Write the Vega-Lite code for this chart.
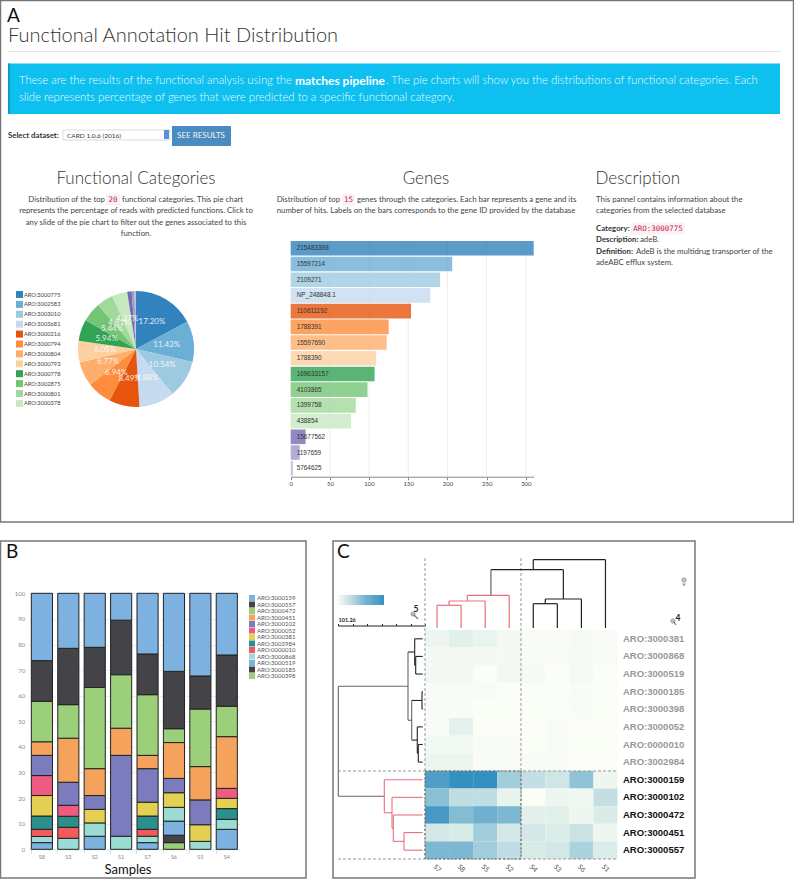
{"$schema":"https://vega.github.io/schema/vega-lite/v6.json","width":794,"height":880,"autosize":"none","padding":0,"background":"white","config":{"view":{"stroke":null},"font":"Lato","text":{"font":"Lato"},"axis":{"labelFont":"Lato"},"legend":{"labelFont":"Lato"}},"resolve":{"scale":{"x":"independent","y":"independent","color":"independent","theta":"independent"},"axis":{"x":"independent","y":"independent"},"legend":{"color":"independent"}},"layer":[
{"data":{"values":[{"a":0,"b":1},{"a":2,"b":3},{"a":4,"b":5}]},"mark":{"type":"rect","fillOpacity":0,"stroke":"#777","strokeWidth":1.5},"encoding":{"x":{"field":"a","type":"quantitative","axis":null,"scale":{"domain":[0,1,2,3,4,5],"range":[0.5,793.5,0.5,306,333,695],"nice":false}},"x2":{"field":"b"},"y":{"field":"a","type":"quantitative","axis":null,"scale":{"domain":[0,1,2,3,4,5],"range":[0.5,522,541,878,541,878],"nice":false}},"y2":{"field":"b"}}},
{"data":{"values":[{"a":0,"b":1}]},"mark":{"type":"rect","fill":"#e3e3e3"},"encoding":{"x":{"field":"a","type":"quantitative","axis":null,"scale":{"domain":[0,1],"range":[8,781],"nice":false}},"x2":{"field":"b"},"y":{"field":"a","type":"quantitative","axis":null,"scale":{"domain":[0,1],"range":[51,52],"nice":false}},"y2":{"field":"b"}}},
{"data":{"values":[{"a":0,"b":1}]},"mark":{"type":"rect","fill":"#0dc0ef"},"encoding":{"x":{"field":"a","type":"quantitative","axis":null,"scale":{"domain":[0,1],"range":[8,780],"nice":false}},"x2":{"field":"b"},"y":{"field":"a","type":"quantitative","axis":null,"scale":{"domain":[0,1],"range":[63.5,114],"nice":false}},"y2":{"field":"b"}}},
{"data":{"values":[{"a":0,"b":1}]},"mark":{"type":"rect","fill":"#0a9dc8"},"encoding":{"x":{"field":"a","type":"quantitative","axis":null,"scale":{"domain":[0,1],"range":[8,10],"nice":false}},"x2":{"field":"b"},"y":{"field":"a","type":"quantitative","axis":null,"scale":{"domain":[0,1],"range":[63.5,114],"nice":false}},"y2":{"field":"b"}}},
{"data":{"values":[{"a":0,"b":1}]},"mark":{"type":"rect","fill":"white","stroke":"#ccc","strokeWidth":0.7},"encoding":{"x":{"field":"a","type":"quantitative","axis":null,"scale":{"domain":[0,1],"range":[63,170],"nice":false}},"x2":{"field":"b"},"y":{"field":"a","type":"quantitative","axis":null,"scale":{"domain":[0,1],"range":[130,140],"nice":false}},"y2":{"field":"b"}}},
{"data":{"values":[{"a":0,"b":1}]},"mark":{"type":"rect","fill":"#5a8fdc"},"encoding":{"x":{"field":"a","type":"quantitative","axis":null,"scale":{"domain":[0,1],"range":[164,169],"nice":false}},"x2":{"field":"b"},"y":{"field":"a","type":"quantitative","axis":null,"scale":{"domain":[0,1],"range":[130,139],"nice":false}},"y2":{"field":"b"}}},
{"data":{"values":[{"a":0,"b":1}]},"mark":{"type":"rect","fill":"#4a8cc0","cornerRadius":1},"encoding":{"x":{"field":"a","type":"quantitative","axis":null,"scale":{"domain":[0,1],"range":[172,231],"nice":false}},"x2":{"field":"b"},"y":{"field":"a","type":"quantitative","axis":null,"scale":{"domain":[0,1],"range":[126,146],"nice":false}},"y2":{"field":"b"}}},
{"data":{"values":[{"a":0,"b":1},{"a":2,"b":3},{"a":4,"b":5}]},"mark":{"type":"rect","fill":"#f9f2f4","cornerRadius":1},"encoding":{"x":{"field":"a","type":"quantitative","axis":null,"scale":{"domain":[0,1,2,3,4,5],"range":[106,120,342,355,631,685],"nice":false}},"x2":{"field":"b"},"y":{"field":"a","type":"quantitative","axis":null,"scale":{"domain":[0,1,2,3,4,5],"range":[193.5,205.5,193.5,205.5,222.5,234.5],"nice":false}},"y2":{"field":"b"}}},
{"data":{"values":[{"i":0,"t":"A"},{"i":1,"t":"B"},{"i":2,"t":"C"}]},"mark":{"type":"text","align":"left","baseline":"alphabetic","fontSize":19,"color":"#111"},"encoding":{"x":{"field":"i","type":"quantitative","axis":null,"scale":{"domain":[0,1,2],"range":[7,6,337],"nice":false}},"y":{"field":"i","type":"quantitative","axis":null,"scale":{"domain":[0,1,2],"range":[22,558,558],"nice":false}},"text":{"field":"t"}}},
{"data":{"values":[{"i":0,"t":"Functional Annotation Hit Distribution"}]},"mark":{"type":"text","align":"left","baseline":"alphabetic","fontSize":20,"fontWeight":300,"color":"#333"},"encoding":{"x":{"field":"i","type":"quantitative","axis":null,"scale":{"domain":[0,1],"range":[8,9],"nice":false}},"y":{"field":"i","type":"quantitative","axis":null,"scale":{"domain":[0,1],"range":[41.5,42.5],"nice":false}},"text":{"field":"t"}}},
{"data":{"values":[{"i":0,"t":"These are the results of the functional analysis using the"},{"i":1,"t":". The pie charts will show you the distributions of functional categories. Each"},{"i":2,"t":"slide represents percentage of genes that were predicted to a specific functional category."}]},"mark":{"type":"text","align":"left","baseline":"middle","fontSize":11.3,"fontWeight":300,"color":"#e9f9fe"},"encoding":{"x":{"field":"i","type":"quantitative","axis":null,"scale":{"domain":[0,1,2],"range":[19,386,19],"nice":false}},"y":{"field":"i","type":"quantitative","axis":null,"scale":{"domain":[0,1,2],"range":[81,81,98],"nice":false}},"text":{"field":"t"}}},
{"data":{"values":[{"i":0,"t":"matches pipeline"}]},"mark":{"type":"text","align":"left","baseline":"middle","fontSize":12,"fontWeight":"bold","color":"white"},"encoding":{"x":{"field":"i","type":"quantitative","axis":null,"scale":{"domain":[0,1],"range":[295,296],"nice":false}},"y":{"field":"i","type":"quantitative","axis":null,"scale":{"domain":[0,1],"range":[81,82],"nice":false}},"text":{"field":"t"}}},
{"data":{"values":[{"i":0,"t":"Select dataset:"},{"i":1,"t":"Category:"},{"i":2,"t":"Description:"},{"i":3,"t":"Definition:"}]},"mark":{"type":"text","align":"left","baseline":"middle","fontSize":7.8,"fontWeight":"bold","color":"#333"},"encoding":{"x":{"field":"i","type":"quantitative","axis":null,"scale":{"domain":[0,1,2,3],"range":[8,596,596,596],"nice":false}},"y":{"field":"i","type":"quantitative","axis":null,"scale":{"domain":[0,1,2,3],"range":[136,228.5,240,251.5],"nice":false}},"text":{"field":"t"}}},
{"data":{"values":[{"i":0,"t":"CARD 1.0.6 (2016)"}]},"mark":{"type":"text","align":"left","baseline":"middle","fontSize":6.5,"color":"#333"},"encoding":{"x":{"field":"i","type":"quantitative","axis":null,"scale":{"domain":[0,1],"range":[67,68],"nice":false}},"y":{"field":"i","type":"quantitative","axis":null,"scale":{"domain":[0,1],"range":[135.5,136.5],"nice":false}},"text":{"field":"t"}}},
{"data":{"values":[{"i":0,"t":"SEE RESULTS"}]},"mark":{"type":"text","align":"center","baseline":"middle","fontSize":8,"color":"#f0f6fb"},"encoding":{"x":{"field":"i","type":"quantitative","axis":null,"scale":{"domain":[0,1],"range":[201,202],"nice":false}},"y":{"field":"i","type":"quantitative","axis":null,"scale":{"domain":[0,1],"range":[136,137],"nice":false}},"text":{"field":"t"}}},
{"data":{"values":[{"i":0,"t":"Functional Categories"},{"i":1,"t":"Genes"}]},"mark":{"type":"text","align":"center","baseline":"middle","fontSize":17,"fontWeight":300,"color":"#333"},"encoding":{"x":{"field":"i","type":"quantitative","axis":null,"scale":{"domain":[0,1],"range":[136,426],"nice":false}},"y":{"field":"i","type":"quantitative","axis":null,"scale":{"domain":[0,1],"range":[178.5,178.5],"nice":false}},"text":{"field":"t"}}},
{"data":{"values":[{"i":0,"t":"Description"}]},"mark":{"type":"text","align":"left","baseline":"middle","fontSize":17,"fontWeight":300,"color":"#333"},"encoding":{"x":{"field":"i","type":"quantitative","axis":null,"scale":{"domain":[0,1],"range":[595.5,596.5],"nice":false}},"y":{"field":"i","type":"quantitative","axis":null,"scale":{"domain":[0,1],"range":[178.5,179.5],"nice":false}},"text":{"field":"t"}}},
{"data":{"values":[{"i":0,"t":"represents the percentage of reads with predicted functions. Click to"},{"i":1,"t":"any slide of the pie chart to filter out the genes associated to this"},{"i":2,"t":"function."},{"i":3,"t":"number of hits. Labels on the bars corresponds to the gene ID provided by the database"}]},"mark":{"type":"text","align":"center","baseline":"middle","fontSize":7.8,"color":"#444"},"encoding":{"x":{"field":"i","type":"quantitative","axis":null,"scale":{"domain":[0,1,2,3],"range":[136,136,136,426],"nice":false}},"y":{"field":"i","type":"quantitative","axis":null,"scale":{"domain":[0,1,2,3],"range":[211,222.7,234.3,211],"nice":false}},"text":{"field":"t"}}},
{"data":{"values":[{"i":0,"t":"Distribution of the top"},{"i":1,"t":"Distribution of top"}]},"mark":{"type":"text","align":"right","baseline":"middle","fontSize":7.8,"color":"#444"},"encoding":{"x":{"field":"i","type":"quantitative","axis":null,"scale":{"domain":[0,1],"range":[105,340],"nice":false}},"y":{"field":"i","type":"quantitative","axis":null,"scale":{"domain":[0,1],"range":[199.5,199.5],"nice":false}},"text":{"field":"t"}}},
{"data":{"values":[{"i":0,"t":"functional categories. This pie chart"},{"i":1,"t":"genes through the categories. Each bar represents a gene and its"},{"i":2,"t":"This pannel contains information about the"},{"i":3,"t":"categories from the selected database"},{"i":4,"t":"adeB."},{"i":5,"t":"AdeB is the multidrug transporter of the"},{"i":6,"t":"adeABC efflux system."}]},"mark":{"type":"text","align":"left","baseline":"middle","fontSize":7.8,"color":"#444"},"encoding":{"x":{"field":"i","type":"quantitative","axis":null,"scale":{"domain":[0,1,2,3,4,5,6],"range":[122,357,596,596,640,636,596],"nice":false}},"y":{"field":"i","type":"quantitative","axis":null,"scale":{"domain":[0,1,2,3,4,5,6],"range":[199.5,199.5,199.5,211,240,251.5,263.3],"nice":false}},"text":{"field":"t"}}},
{"data":{"values":[{"i":0,"t":"20"},{"i":1,"t":"15"},{"i":2,"t":"ARO:3000775"}]},"mark":{"type":"text","align":"center","baseline":"middle","fontSize":7.5,"font":"DejaVu Sans Mono","color":"#c7254e"},"encoding":{"x":{"field":"i","type":"quantitative","axis":null,"scale":{"domain":[0,1,2],"range":[113,348.5,658],"nice":false}},"y":{"field":"i","type":"quantitative","axis":null,"scale":{"domain":[0,1,2],"range":[199.5,199.5,228.5],"nice":false}},"text":{"field":"t"}}},
{"data":{"values":[{"aro":"ARO:3000775","v":17.2,"r":0,"lab":"17.20%"},{"aro":"ARO:3002583","v":11.43,"r":1,"lab":"11.43%"},{"aro":"ARO:3003010","v":10.54,"r":2,"lab":"10.54%"},{"aro":"ARO:3003681","v":9.88,"r":3,"lab":"9.88%"},{"aro":"ARO:3000216","v":8.49,"r":4,"lab":"8.49%"},{"aro":"ARO:3000794","v":6.94,"r":5,"lab":"6.94%"},{"aro":"ARO:3000804","v":6.77,"r":6,"lab":"6.77%"},{"aro":"ARO:3000793","v":6.05,"r":7,"lab":"6.05%"},{"aro":"ARO:3000778","v":5.94,"r":8,"lab":"5.94%"},{"aro":"ARO:3002875","v":5.44,"r":9,"lab":"5.44%"},{"aro":"ARO:3000801","v":4.61,"r":10,"lab":"4.61%"},{"aro":"ARO:3000378","v":4.27,"r":11,"lab":"4.27%"},{"aro":"ARO:3000p1","v":1.25,"r":12,"lab":""},{"aro":"ARO:3000p2","v":0.75,"r":13,"lab":""},{"aro":"ARO:3000p3","v":0.44,"r":14,"lab":""}]},"encoding":{"x":{"datum":0,"type":"quantitative","axis":null,"scale":{"domain":[0,1],"range":[136,137]}},"y":{"datum":0,"type":"quantitative","axis":null,"scale":{"domain":[0,1],"range":[349,350]}},"theta":{"field":"v","type":"quantitative","stack":true},"order":{"field":"r"}},"layer":[{"mark":{"type":"arc","outerRadius":58},"encoding":{"color":{"field":"aro","type":"nominal","scale":{"domain":["ARO:3000775","ARO:3002583","ARO:3003010","ARO:3003681","ARO:3000216","ARO:3000794","ARO:3000804","ARO:3000793","ARO:3000778","ARO:3002875","ARO:3000801","ARO:3000378","ARO:3000p1","ARO:3000p2","ARO:3000p3"],"range":["#3182bd","#6baed6","#9ecae1","#c6dbef","#e6550d","#fd8d3c","#fdae6b","#fdd0a2","#31a354","#74c476","#a1d99b","#c7e9c0","#756bb1","#9e9ac8","#bcbddc"]},"legend":{"orient":"none","legendX":16,"legendY":291,"title":null,"values":["ARO:3000775","ARO:3002583","ARO:3003010","ARO:3003681","ARO:3000216","ARO:3000794","ARO:3000804","ARO:3000793","ARO:3000778","ARO:3002875","ARO:3000801","ARO:3000378"],"symbolType":"square","symbolSize":49,"symbolStrokeWidth":0,"labelFontSize":5.7,"labelColor":"#444","rowPadding":2.9,"labelOffset":1}}}},{"mark":{"type":"text","radius":31,"fontSize":8,"color":"#fff","opacity":0.85},"encoding":{"text":{"field":"lab"}}}]},
{"data":{"values":[{"t":50},{"t":100},{"t":150},{"t":200},{"t":250},{"t":300}]},"mark":{"type":"rule","stroke":"#eee","strokeWidth":1},"encoding":{"x":{"field":"t","type":"quantitative","axis":null,"scale":{"domain":[0,310],"range":[290.7,533.7],"nice":false}},"y":{"datum":0,"type":"quantitative","axis":null,"scale":{"domain":[0,1],"range":[240,476.7]}},"y2":{"datum":1}}},
{"data":{"values":[{"g":"215483398","v":310,"k":"a"},{"g":"15597214","v":206,"k":"b"},{"g":"2109271","v":190.5,"k":"c"},{"g":"NP_248848.1","v":178,"k":"d"},{"g":"110611192","v":153.5,"k":"e"},{"g":"1788391","v":125,"k":"f"},{"g":"15597690","v":122.5,"k":"g"},{"g":"1788390","v":109,"k":"h"},{"g":"169633157","v":107,"k":"i"},{"g":"4103865","v":98,"k":"j"},{"g":"1399758","v":83,"k":"k"},{"g":"438854","v":77,"k":"l"},{"g":"15677562","v":19,"k":"m"},{"g":"1197659","v":11.5,"k":"n"},{"g":"5764625","v":3,"k":"o"}]},"encoding":{"y":{"field":"g","type":"nominal","sort":null,"axis":null,"scale":{"range":[240.5,476],"paddingInner":0.07,"paddingOuter":0.03}}},"layer":[{"mark":{"type":"bar","opacity":0.8},"encoding":{"x":{"field":"v","type":"quantitative","title":null,"scale":{"domain":[0,310],"range":[290.7,533.7],"nice":false},"axis":{"orient":"bottom","offset":-403.3,"values":[0,50,100,150,200,250,300],"grid":false,"labelFlush":false,"domainColor":"#888","tickColor":"#888","tickSize":3,"labelFontSize":6,"labelColor":"#444","labelPadding":1}},"color":{"field":"k","type":"nominal","legend":null,"scale":{"domain":["a","b","c","d","e","f","g","h","i","j","k","l","m","n","o"],"range":["#3182bd","#6baed6","#9ecae1","#c6dbef","#e6550d","#fd8d3c","#fdae6b","#fdd0a2","#31a354","#74c476","#a1d99b","#c7e9c0","#756bb1","#9e9ac8","#bcbddc"]}}}},{"mark":{"type":"text","align":"left","baseline":"middle","dx":6,"font":"Liberation Sans","fontSize":6.4,"color":"#333"},"encoding":{"x":{"datum":0,"type":"quantitative"},"text":{"field":"g"}}}]},
{"data":{"values":[{"s":"S8","a":"ARO:3000519","r":2,"v":2.6},{"s":"S8","a":"ARO:3000868","r":3,"v":2.4},{"s":"S8","a":"ARO:0000010","r":4,"v":2.8},{"s":"S8","a":"ARO:3002984","r":5,"v":5.2},{"s":"S8","a":"ARO:3000381","r":6,"v":8},{"s":"S8","a":"ARO:3000052","r":7,"v":7.8},{"s":"S8","a":"ARO:3000102","r":8,"v":7.9},{"s":"S8","a":"ARO:3000451","r":9,"v":5.3},{"s":"S8","a":"ARO:3000472","r":10,"v":15.8},{"s":"S8","a":"ARO:3000557","r":11,"v":15.9},{"s":"S8","a":"ARO:3000159","r":12,"v":26.3},
{"s":"S3","a":"ARO:3000868","r":3,"v":4.3},{"s":"S3","a":"ARO:0000010","r":4,"v":4.3},{"s":"S3","a":"ARO:3002984","r":5,"v":4.3},{"s":"S3","a":"ARO:3000052","r":7,"v":4.3},{"s":"S3","a":"ARO:3000102","r":8,"v":9},{"s":"S3","a":"ARO:3000451","r":9,"v":17.2},{"s":"S3","a":"ARO:3000472","r":10,"v":13.1},{"s":"S3","a":"ARO:3000557","r":11,"v":22},{"s":"S3","a":"ARO:3000159","r":12,"v":21.5},
{"s":"S2","a":"ARO:3000519","r":2,"v":5.1},{"s":"S2","a":"ARO:3000868","r":3,"v":5.2},{"s":"S2","a":"ARO:3000381","r":6,"v":5.3},{"s":"S2","a":"ARO:3000102","r":8,"v":5.4},{"s":"S2","a":"ARO:3000451","r":9,"v":10.5},{"s":"S2","a":"ARO:3000472","r":10,"v":31.7},{"s":"S2","a":"ARO:3000557","r":11,"v":15.7},{"s":"S2","a":"ARO:3000159","r":12,"v":21.1},
{"s":"S1","a":"ARO:3000868","r":3,"v":5.1},{"s":"S1","a":"ARO:3000102","r":8,"v":31.6},{"s":"S1","a":"ARO:3000451","r":9,"v":10.6},{"s":"S1","a":"ARO:3000472","r":10,"v":20.9},{"s":"S1","a":"ARO:3000557","r":11,"v":21.3},{"s":"S1","a":"ARO:3000159","r":12,"v":10.5},
{"s":"S7","a":"ARO:3000519","r":2,"v":2.6},{"s":"S7","a":"ARO:3000868","r":3,"v":2.5},{"s":"S7","a":"ARO:0000010","r":4,"v":2.7},{"s":"S7","a":"ARO:3002984","r":5,"v":5.2},{"s":"S7","a":"ARO:3000381","r":6,"v":5.4},{"s":"S7","a":"ARO:3000102","r":8,"v":13.1},{"s":"S7","a":"ARO:3000451","r":9,"v":5.2},{"s":"S7","a":"ARO:3000472","r":10,"v":23.7},{"s":"S7","a":"ARO:3000557","r":11,"v":15.9},{"s":"S7","a":"ARO:3000159","r":12,"v":23.7},
{"s":"S6","a":"ARO:3000398","r":0,"v":2.6},{"s":"S6","a":"ARO:3000185","r":1,"v":2.9},{"s":"S6","a":"ARO:3000519","r":2,"v":5.5},{"s":"S6","a":"ARO:3000868","r":3,"v":5.4},{"s":"S6","a":"ARO:3000381","r":6,"v":5.7},{"s":"S6","a":"ARO:3000102","r":8,"v":5.6},{"s":"S6","a":"ARO:3000451","r":9,"v":14},{"s":"S6","a":"ARO:3000472","r":10,"v":5.4},{"s":"S6","a":"ARO:3000557","r":11,"v":22.4},{"s":"S6","a":"ARO:3000159","r":12,"v":30.5},
{"s":"S5","a":"ARO:3000868","r":3,"v":3.1},{"s":"S5","a":"ARO:3000381","r":6,"v":6.5},{"s":"S5","a":"ARO:3000102","r":8,"v":9.7},{"s":"S5","a":"ARO:3000451","r":9,"v":13},{"s":"S5","a":"ARO:3000472","r":10,"v":22.5},{"s":"S5","a":"ARO:3000557","r":11,"v":12.9},{"s":"S5","a":"ARO:3000159","r":12,"v":32.3},
{"s":"S4","a":"ARO:3000519","r":2,"v":7.8},{"s":"S4","a":"ARO:3000868","r":3,"v":3.9},{"s":"S4","a":"ARO:3002984","r":5,"v":4.2},{"s":"S4","a":"ARO:3000381","r":6,"v":4},{"s":"S4","a":"ARO:3000052","r":7,"v":3.9},{"s":"S4","a":"ARO:3000451","r":9,"v":20.2},{"s":"S4","a":"ARO:3000472","r":10,"v":11.9},{"s":"S4","a":"ARO:3000557","r":11,"v":20},{"s":"S4","a":"ARO:3000159","r":12,"v":24.1}]},"mark":{"type":"bar","stroke":"#222","strokeWidth":1},"encoding":{"x":{"field":"s","type":"nominal","sort":["S8","S3","S2","S1","S7","S6","S5","S4"],"title":null,"scale":{"range":[28.7,240],"paddingInner":0.2,"paddingOuter":0.1},"axis":{"orient":"bottom","offset":-30.7,"labelAngle":0,"labelFontSize":5.5,"labelColor":"#888","domainColor":"#ddd","tickColor":"#ddd","tickSize":4,"labelPadding":1,"bandPosition":0}},"y":{"field":"v","type":"quantitative","stack":"zero","title":null,"scale":{"domain":[0,100],"range":[849.3,593.3],"nice":false},"axis":{"orient":"left","offset":-28.7,"values":[0,10,20,30,40,50,60,70,80,90,100],"grid":true,"gridColor":"#eee","domain":false,"ticks":false,"labelFontSize":6,"labelColor":"#888","labelPadding":4}},"order":{"field":"r"},"color":{"field":"a","type":"nominal","scale":{"domain":["ARO:3000159","ARO:3000557","ARO:3000472","ARO:3000451","ARO:3000102","ARO:3000052","ARO:3000381","ARO:3002984","ARO:0000010","ARO:3000868","ARO:3000519","ARO:3000185","ARO:3000398"],"range":["#7cb1e0","#434348","#9ccf7a","#f5a35c","#7b7bbd","#ee5a80","#e4d154","#2b8f8c","#f15b5b","#9bdcd5","#7cb1e0","#434348","#9ccf7a"]},"legend":{"orient":"none","legendX":249,"legendY":595,"title":null,"symbolType":"square","symbolSize":36,"symbolStrokeWidth":0,"labelFontSize":6,"labelColor":"#555","rowPadding":0.5,"labelOffset":2}}}},
{"data":{"values":[{"i":0,"t":"Samples"}]},"mark":{"type":"text","align":"center","baseline":"middle","fontSize":13,"color":"#111"},"encoding":{"x":{"field":"i","type":"quantitative","axis":null,"scale":{"domain":[0,1],"range":[128,129],"nice":false}},"y":{"field":"i","type":"quantitative","axis":null,"scale":{"domain":[0,1],"range":[870,871],"nice":false}},"text":{"field":"t"}}},
{"data":{"values":[
{"r":"ARO:3000381","c":"S7","v":0.08},{"r":"ARO:3000381","c":"S8","v":0.13},{"r":"ARO:3000381","c":"S5","v":0.09},{"r":"ARO:3000381","c":"S2","v":0.05},{"r":"ARO:3000381","c":"S4","v":0.01},{"r":"ARO:3000381","c":"S3","v":0.01},{"r":"ARO:3000381","c":"S6","v":0.03},{"r":"ARO:3000381","c":"S1","v":0.01},
{"r":"ARO:3000868","c":"S7","v":0.04},{"r":"ARO:3000868","c":"S8","v":0.04},{"r":"ARO:3000868","c":"S5","v":0.04},{"r":"ARO:3000868","c":"S2","v":0.04},{"r":"ARO:3000868","c":"S4","v":0.01},{"r":"ARO:3000868","c":"S3","v":0.015},{"r":"ARO:3000868","c":"S6","v":0.03},{"r":"ARO:3000868","c":"S1","v":0.015},
{"r":"ARO:3000519","c":"S7","v":0.05},{"r":"ARO:3000519","c":"S8","v":0.05},{"r":"ARO:3000519","c":"S5","v":0},{"r":"ARO:3000519","c":"S2","v":0.05},{"r":"ARO:3000519","c":"S4","v":0.03},{"r":"ARO:3000519","c":"S3","v":0},{"r":"ARO:3000519","c":"S6","v":0.03},{"r":"ARO:3000519","c":"S1","v":0},
{"r":"ARO:3000185","c":"S7","v":0.01},{"r":"ARO:3000185","c":"S8","v":0.01},{"r":"ARO:3000185","c":"S5","v":0.01},{"r":"ARO:3000185","c":"S2","v":0},{"r":"ARO:3000185","c":"S4","v":0},{"r":"ARO:3000185","c":"S3","v":0},{"r":"ARO:3000185","c":"S6","v":0.01},{"r":"ARO:3000185","c":"S1","v":0},
{"r":"ARO:3000398","c":"S7","v":0.01},{"r":"ARO:3000398","c":"S8","v":0.01},{"r":"ARO:3000398","c":"S5","v":0},{"r":"ARO:3000398","c":"S2","v":0},{"r":"ARO:3000398","c":"S4","v":0},{"r":"ARO:3000398","c":"S3","v":0},{"r":"ARO:3000398","c":"S6","v":0.01},{"r":"ARO:3000398","c":"S1","v":0},
{"r":"ARO:3000052","c":"S7","v":0.01},{"r":"ARO:3000052","c":"S8","v":0.12},{"r":"ARO:3000052","c":"S5","v":0},{"r":"ARO:3000052","c":"S2","v":0},{"r":"ARO:3000052","c":"S4","v":0},{"r":"ARO:3000052","c":"S3","v":0.01},{"r":"ARO:3000052","c":"S6","v":0},{"r":"ARO:3000052","c":"S1","v":0},
{"r":"ARO:0000010","c":"S7","v":0.05},{"r":"ARO:0000010","c":"S8","v":0.05},{"r":"ARO:0000010","c":"S5","v":0.01},{"r":"ARO:0000010","c":"S2","v":0.01},{"r":"ARO:0000010","c":"S4","v":0},{"r":"ARO:0000010","c":"S3","v":0.01},{"r":"ARO:0000010","c":"S6","v":0},{"r":"ARO:0000010","c":"S1","v":0},
{"r":"ARO:3002984","c":"S7","v":0.08},{"r":"ARO:3002984","c":"S8","v":0.08},{"r":"ARO:3002984","c":"S5","v":0.01},{"r":"ARO:3002984","c":"S2","v":0.01},{"r":"ARO:3002984","c":"S4","v":0.01},{"r":"ARO:3002984","c":"S3","v":0.01},{"r":"ARO:3002984","c":"S6","v":0},{"r":"ARO:3002984","c":"S1","v":0},
{"r":"ARO:3000159","c":"S7","v":0.85},{"r":"ARO:3000159","c":"S8","v":1},{"r":"ARO:3000159","c":"S5","v":1},{"r":"ARO:3000159","c":"S2","v":0.42},{"r":"ARO:3000159","c":"S4","v":0.28},{"r":"ARO:3000159","c":"S3","v":0.22},{"r":"ARO:3000159","c":"S6","v":0.5},{"r":"ARO:3000159","c":"S1","v":0.07},
{"r":"ARO:3000102","c":"S7","v":0.52},{"r":"ARO:3000102","c":"S8","v":0.3},{"r":"ARO:3000102","c":"S5","v":0.3},{"r":"ARO:3000102","c":"S2","v":0.1},{"r":"ARO:3000102","c":"S4","v":0},{"r":"ARO:3000102","c":"S3","v":0.07},{"r":"ARO:3000102","c":"S6","v":0.06},{"r":"ARO:3000102","c":"S1","v":0.28},
{"r":"ARO:3000472","c":"S7","v":0.9},{"r":"ARO:3000472","c":"S8","v":0.55},{"r":"ARO:3000472","c":"S5","v":0.65},{"r":"ARO:3000472","c":"S2","v":0.58},{"r":"ARO:3000472","c":"S4","v":0.13},{"r":"ARO:3000472","c":"S3","v":0.13},{"r":"ARO:3000472","c":"S6","v":0.07},{"r":"ARO:3000472","c":"S1","v":0.17},
{"r":"ARO:3000451","c":"S7","v":0.2},{"r":"ARO:3000451","c":"S8","v":0.18},{"r":"ARO:3000451","c":"S5","v":0.42},{"r":"ARO:3000451","c":"S2","v":0.2},{"r":"ARO:3000451","c":"S4","v":0.2},{"r":"ARO:3000451","c":"S3","v":0.16},{"r":"ARO:3000451","c":"S6","v":0.24},{"r":"ARO:3000451","c":"S1","v":0.07},
{"r":"ARO:3000557","c":"S7","v":0.58},{"r":"ARO:3000557","c":"S8","v":0.58},{"r":"ARO:3000557","c":"S5","v":0.42},{"r":"ARO:3000557","c":"S2","v":0.3},{"r":"ARO:3000557","c":"S4","v":0.18},{"r":"ARO:3000557","c":"S3","v":0.2},{"r":"ARO:3000557","c":"S6","v":0.38},{"r":"ARO:3000557","c":"S1","v":0.16}]},"mark":{"type":"rect"},"encoding":{"x":{"field":"c","type":"nominal","sort":["S7","S8","S5","S2","S4","S3","S6","S1"],"title":null,"scale":{"range":[425,617.5],"paddingInner":0,"paddingOuter":0},"axis":{"orient":"bottom","offset":-21,"domain":false,"ticks":false,"labelAngle":45,"labelAlign":"center","labelBaseline":"middle","labelFontSize":7,"labelColor":"#555","labelPadding":9}},"y":{"field":"r","type":"nominal","sort":["ARO:3000381","ARO:3000868","ARO:3000519","ARO:3000185","ARO:3000398","ARO:3000052","ARO:0000010","ARO:3002984","ARO:3000159","ARO:3000102","ARO:3000472","ARO:3000451","ARO:3000557"],"title":null,"scale":{"range":[630,859],"paddingInner":0,"paddingOuter":0},"axis":{"orient":"right","offset":-176.5,"domain":false,"ticks":false,"labelFontSize":9.5,"labelFontWeight":"bold","labelFont":"Liberation Sans","labelPadding":5,"labelColor":{"condition":{"test":"indexof(['ARO:3000159','ARO:3000102','ARO:3000472','ARO:3000451','ARO:3000557'],datum.value)>=0","value":"#111"},"value":"#999"}}},"color":{"field":"v","type":"quantitative","scale":{"domain":[0,0.1,0.3,0.6,1],"range":["#fbfdf7","#e8f3ee","#bfdde3","#77b5d0","#3590c2"]},"legend":{"orient":"none","legendX":337,"legendY":595,"direction":"horizontal","title":null,"gradientLength":47,"gradientThickness":10,"gradientStrokeWidth":0,"labelOpacity":0,"labelFontSize":1,"tickCount":2}}}},
{"data":{"values":[{"a":0,"b":1,"c":2},{"a":3,"b":1,"c":2}]},"mark":{"type":"rule","stroke":"#999","strokeWidth":1,"strokeDash":[3,2]},"encoding":{"x":{"field":"a","type":"quantitative","axis":null,"scale":{"domain":[0,1,2,3],"range":[425,425,425,521],"nice":false}},"y":{"field":"b","type":"quantitative","axis":null,"scale":{"domain":[1,2],"range":[558,859],"nice":false}},"y2":{"field":"c"}}},
{"data":{"values":[{"a":0,"b":1,"c":2},{"a":3,"b":1,"c":2}]},"mark":{"type":"rule","stroke":"#999","strokeWidth":1,"strokeDash":[3,2]},"encoding":{"y":{"field":"a","type":"quantitative","axis":null,"scale":{"domain":[0,1,2,3],"range":[771,771,771,859],"nice":false}},"x":{"field":"b","type":"quantitative","axis":null,"scale":{"domain":[1,2],"range":[338,617.5],"nice":false}},"x2":{"field":"c"}}},
{"data":{"values":[{"a":0,"b":1}]},"mark":{"type":"rect","fillOpacity":0,"stroke":"#555","strokeWidth":0.8,"strokeDash":[2,2]},"encoding":{"x":{"field":"a","type":"quantitative","axis":null,"scale":{"domain":[0,1],"range":[425,521],"nice":false}},"x2":{"field":"b"},"y":{"field":"a","type":"quantitative","axis":null,"scale":{"domain":[0,1],"range":[771,859],"nice":false}},"y2":{"field":"b"}}},
{"data":{"values":[
{"k":"red","x":0.5,"x2":0.5,"h":0,"h2":22.7},{"k":"red","x":1.5,"x2":1.5,"h":0,"h2":22.7},{"k":"red","x":0.5,"x2":1.5,"h":22.7,"h2":22.7},{"k":"red","x":1,"x2":1,"h":22.7,"h2":27},{"k":"red","x":2.5,"x2":2.5,"h":0,"h2":27},{"k":"red","x":1,"x2":2.5,"h":27,"h2":27},{"k":"red","x":1.76,"x2":1.76,"h":27,"h2":32.7},{"k":"red","x":3.5,"x2":3.5,"h":0,"h2":32.7},{"k":"red","x":1.76,"x2":3.5,"h":32.7,"h2":32.7},
{"k":"grey","x":2.74,"x2":2.74,"h":32.7,"h2":58.3},
{"k":"black","x":4.5,"x2":4.5,"h":0,"h2":24.3},{"k":"black","x":5.5,"x2":5.5,"h":0,"h2":24.3},{"k":"black","x":4.5,"x2":5.5,"h":24.3,"h2":24.3},{"k":"black","x":5,"x2":5,"h":24.3,"h2":29},{"k":"black","x":6.5,"x2":6.5,"h":0,"h2":29},{"k":"black","x":5,"x2":6.5,"h":29,"h2":29},{"k":"black","x":5.75,"x2":5.75,"h":29,"h2":58.3},{"k":"black","x":2.74,"x2":5.75,"h":58.3,"h2":58.3},{"k":"black","x":4.5,"x2":4.5,"h":58.3,"h2":68.3},{"k":"black","x":7.5,"x2":7.5,"h":0,"h2":68.3},{"k":"black","x":4.5,"x2":7.5,"h":68.3,"h2":68.3}]},"mark":{"type":"rule","strokeWidth":1.2},"encoding":{"x":{"field":"x","type":"quantitative","axis":null,"scale":{"domain":[0,8],"range":[425,617.5],"nice":false}},"x2":{"field":"x2"},"y":{"field":"h","type":"quantitative","axis":null,"scale":{"domain":[0,69],"range":[628,559],"nice":false}},"y2":{"field":"h2"},"color":{"field":"k","type":"nominal","legend":null,"scale":{"domain":["red","grey","black"],"range":["#e8707f","#666","#222"]}}}},
{"data":{"values":[
{"k":"black","d":2.3,"d2":10.3,"y":0.5,"y2":0.5},{"k":"black","d":2.3,"d2":9.3,"y":1.5,"y2":1.5},{"k":"black","d":2.3,"d2":9.3,"y":2.5,"y2":2.5},{"k":"black","d":9.3,"d2":9.3,"y":1.5,"y2":2.5},{"k":"black","d":9.3,"d2":10.3,"y":2,"y2":2},{"k":"black","d":10.3,"d2":10.3,"y":0.5,"y2":2},{"k":"black","d":10.3,"d2":17,"y":1.25,"y2":1.25},
{"k":"black","d":2.3,"d2":3,"y":3.5,"y2":3.5},{"k":"black","d":2.3,"d2":3,"y":4.5,"y2":4.5},{"k":"black","d":3,"d2":3,"y":3.5,"y2":4.5},{"k":"black","d":3,"d2":13.3,"y":4,"y2":4},
{"k":"black","d":2.3,"d2":7.7,"y":5.5,"y2":5.5},{"k":"black","d":2.3,"d2":6.7,"y":6.5,"y2":6.5},{"k":"black","d":2.3,"d2":6.7,"y":7.5,"y2":7.5},{"k":"black","d":6.7,"d2":6.7,"y":6.5,"y2":7.5},{"k":"black","d":6.7,"d2":7.7,"y":7,"y2":7},{"k":"black","d":7.7,"d2":7.7,"y":5.5,"y2":7},{"k":"black","d":7.7,"d2":13.3,"y":6.25,"y2":6.25},
{"k":"grey","d":13.3,"d2":13.3,"y":4,"y2":6.25},{"k":"grey","d":13.3,"d2":17,"y":5.125,"y2":5.125},{"k":"grey","d":17,"d2":17,"y":1.25,"y2":5.125},{"k":"grey","d":17,"d2":86.7,"y":3.19,"y2":3.19},{"k":"grey","d":86.7,"d2":86.7,"y":3.19,"y2":9.44},{"k":"grey","d":40.7,"d2":86.7,"y":9.44,"y2":9.44},
{"k":"red","d":2.3,"d2":21,"y":11.5,"y2":11.5},{"k":"red","d":2.3,"d2":21,"y":12.5,"y2":12.5},{"k":"red","d":21,"d2":21,"y":11.5,"y2":12.5},{"k":"red","d":21,"d2":31.7,"y":12,"y2":12},{"k":"red","d":2.3,"d2":31.7,"y":10.5,"y2":10.5},{"k":"red","d":31.7,"d2":31.7,"y":10.5,"y2":12},{"k":"red","d":31.7,"d2":33,"y":11.25,"y2":11.25},{"k":"red","d":2.3,"d2":33,"y":9.5,"y2":9.5},{"k":"red","d":33,"d2":33,"y":9.5,"y2":11.25},{"k":"red","d":33,"d2":40.7,"y":10.375,"y2":10.375},{"k":"red","d":2.3,"d2":40.7,"y":8.5,"y2":8.5},{"k":"red","d":40.7,"d2":40.7,"y":8.5,"y2":10.375}]},"mark":{"type":"rule","strokeWidth":1.1},"encoding":{"x":{"field":"d","type":"quantitative","title":null,"scale":{"domain":[87,0],"range":[338,425],"nice":false},"axis":{"orient":"top","offset":-625.5,"values":[87,72.5,58,43.5,29,14.5,0],"labelExpr":"datum.value==87?'101.26':''","labelAlign":"left","labelFontSize":5.5,"labelFontWeight":"bold","labelColor":"#222","labelPadding":1,"tickSize":2,"tickColor":"#222","domainColor":"#222","grid":false}},"x2":{"field":"d2"},"y":{"field":"y","type":"quantitative","axis":null,"scale":{"domain":[0,13],"range":[630,859],"nice":false}},"y2":{"field":"y2"},"color":{"field":"k","type":"nominal","legend":null,"scale":{"domain":["red","grey","black"],"range":["#e8707f","#666","#222"]}}}},
{"data":{"values":[{"a":0,"b":1},{"a":2,"b":3}]},"mark":{"type":"rule","stroke":"#777","strokeWidth":1.2},"encoding":{"x":{"field":"a","type":"quantitative","axis":null,"scale":{"domain":[0,1,2,3],"range":[413,418,673,676],"nice":false}},"x2":{"field":"b"},"y":{"field":"a","type":"quantitative","axis":null,"scale":{"domain":[0,1,2,3],"range":[614,619,621,625],"nice":false}},"y2":{"field":"b"}}},
{"data":{"values":[{"i":0},{"i":1},{"i":2}]},"mark":{"type":"point","shape":"circle","size":18,"filled":true,"fill":"#aaa","stroke":"#777","strokeWidth":1},"encoding":{"x":{"field":"i","type":"quantitative","axis":null,"scale":{"domain":[0,1,2],"range":[413,673,684],"nice":false}},"y":{"field":"i","type":"quantitative","axis":null,"scale":{"domain":[0,1,2],"range":[614,621,580],"nice":false}}}},
{"data":{"values":[{"i":0}]},"mark":{"type":"point","shape":"triangle-down","size":14,"filled":true,"fill":"#777"},"encoding":{"x":{"field":"i","type":"quantitative","axis":null,"scale":{"domain":[0,1],"range":[684,685],"nice":false}},"y":{"field":"i","type":"quantitative","axis":null,"scale":{"domain":[0,1],"range":[585,586],"nice":false}}}},
{"data":{"values":[{"i":0,"t":"5"},{"i":1,"t":"4"}]},"mark":{"type":"text","align":"center","baseline":"middle","fontSize":8.5,"fontWeight":"bold","color":"#222"},"encoding":{"x":{"field":"i","type":"quantitative","axis":null,"scale":{"domain":[0,1],"range":[416,678],"nice":false}},"y":{"field":"i","type":"quantitative","axis":null,"scale":{"domain":[0,1],"range":[609,618],"nice":false}},"text":{"field":"t"}}}
]}
